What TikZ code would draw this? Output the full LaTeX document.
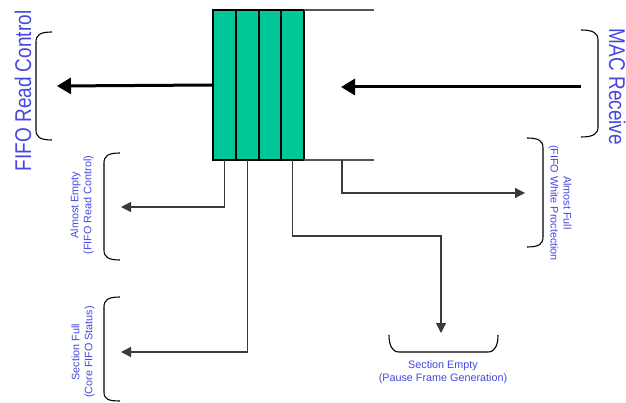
\documentclass[tikz,border=0pt]{standalone}
\usepackage{fontspec}
\setmainfont{Liberation Sans}
\usetikzlibrary{arrows.meta}
\definecolor{FifoGreen}{HTML}{00C896}
\definecolor{FifoLabel}{HTML}{4646E0}
\definecolor{FifoLine}{HTML}{3A3A3A}
\definecolor{FifoRail}{HTML}{555555}

\begin{document}
\begin{tikzpicture}[x=1pt,y=-1pt,
    cell/.style={draw=black, line width=2pt, fill=FifoGreen, inner sep=0pt, outer sep=0pt,
      minimum width=22.75pt, minimum height=150pt},
    busarrow/.style={line width=3pt, -{Triangle[length=14pt,width=16pt]}},
    sigarrow/.style={FifoLine, line width=1.2pt, -{Triangle[length=10pt,width=10pt]}},
    brace/.style={black, line width=1.1pt},
    biglabel/.style={FifoLabel, font=\fontsize{19pt}{23pt}\selectfont, inner sep=0pt},
    siglabel/.style={FifoLabel, font=\fontsize{10.8pt}{13pt}\selectfont, align=center, inner sep=0pt}]
        \useasboundingbox (0,0) rectangle (626,403);
        % fifo cells
        \foreach \i in {1,...,4} {
          \node[cell] (cell\i) at (201.625+22.75*\i,85) {};
        }
        \draw[FifoRail, line width=1.1pt] (cell4.north east) -- (374,10);
        \draw[FifoRail, line width=1.1pt] (cell4.south east) -- (374,160);
        \coordinate (railtap) at (342,160);
        % bus arrows
        \coordinate (readend) at (57,86);
        \coordinate (macstart) at (581,87);
        \coordinate (macend) at (341,87);
        \draw[busarrow] (cell1.west) -- (readend);
        \draw[busarrow] (macstart) -- (macend);
        % status signals
        \coordinate (emptyend) at (121,207);
        \coordinate (fullend) at (121,352);
        \coordinate (secend) at (441,333);
        \coordinate (almfullend) at (525,193);
        \draw[sigarrow] (cell1.south) |- (emptyend);
        \draw[sigarrow] (cell2.south) |- (fullend);
        \draw[sigarrow] (cell4.south) |- (441,236) -- (secend);
        \draw[sigarrow] (railtap) |- (almfullend);
        % braces
        \draw[brace] (52,32) .. controls (40,32) and (36,35) .. (36,42) -- (36,130) .. controls (36,137) and (40,140) .. (52,140);
        \draw[brace] (120,153) .. controls (108,153) and (104,156) .. (104,163) -- (104,250) .. controls (104,257) and (108,260) .. (120,260);
        \draw[brace] (120,297) .. controls (108,297) and (104,300) .. (104,307) -- (104,392) .. controls (104,399) and (108,401) .. (120,401);
        \draw[brace] (581,30) .. controls (593,30) and (598,33) .. (598,40) -- (598,127) .. controls (598,134) and (593,137) .. (581,137);
        \draw[brace] (527,138) .. controls (539,138) and (543,141) .. (543,148) -- (543,237) .. controls (543,244) and (539,247) .. (527,247);
        \draw[brace] (389,335) .. controls (389,345) and (392,352) .. (399,352) -- (488,352) .. controls (495,352) and (498,345) .. (498,335);
        % labels
        \node[biglabel, rotate=90, anchor=base] (readlabel) at (31,91) {\scalebox{1}[1.2]{FIFO Read Control}};
        \node[biglabel, rotate=-90, anchor=base] (maclabel) at (609,87) {\scalebox{1}[1.2]{MAC Receive}};
        \node[siglabel, rotate=90] (emptylabel) at (82,205) {Almost Empty\\(FIFO Read Control)};
        \node[siglabel, rotate=90] (fulllabel) at (83,352) {Section Full\\(Core FIFO Status)};
        \node[siglabel, rotate=-90] (almfulllabel) at (560,203) {Almost Full\\(FIFO White Proctection};
        \node[siglabel] (seclabel) at (443,372) {Section Empty\\(Pause Frame Generation)};
      \end{tikzpicture}
\end{document}
